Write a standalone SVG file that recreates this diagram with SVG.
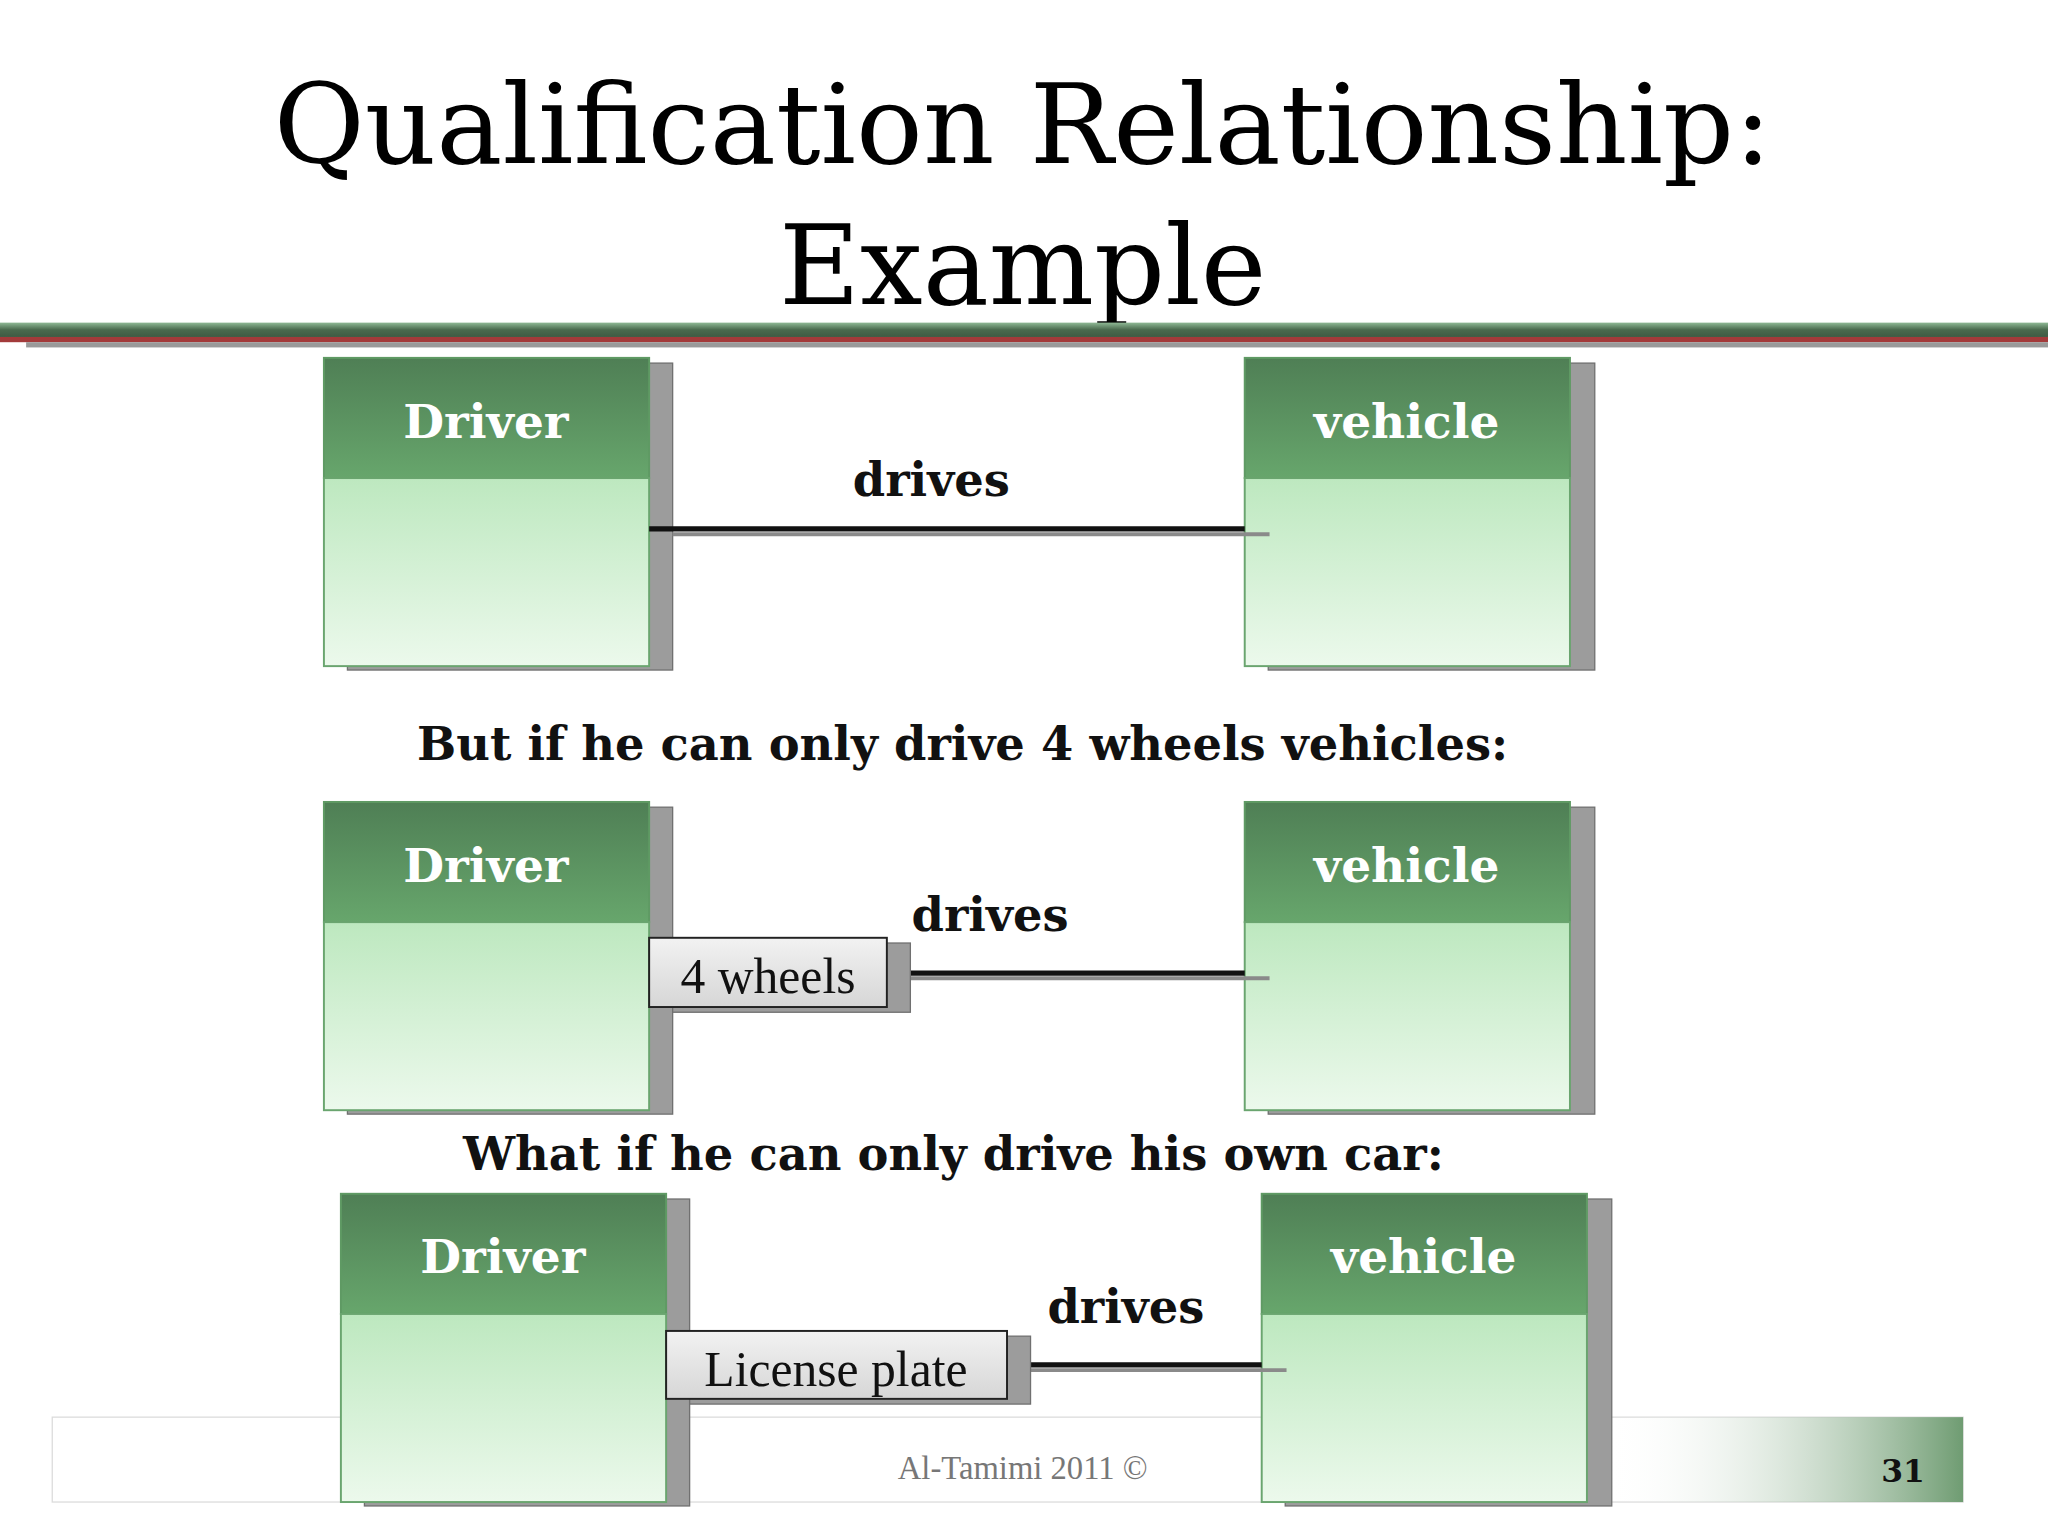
<svg xmlns="http://www.w3.org/2000/svg" width="2048" height="1536" viewBox="0 0 2048 1536">
<defs>
<linearGradient id="hd" x1="0" y1="0" x2="0" y2="1"><stop offset="0" stop-color="#4f7f55"/><stop offset="1" stop-color="#67a66c"/></linearGradient>
<linearGradient id="bd" x1="0" y1="0" x2="0" y2="1"><stop offset="0" stop-color="#bde8bf"/><stop offset="1" stop-color="#ecf9ec"/></linearGradient>
<linearGradient id="bar" x1="0" y1="0" x2="0" y2="1"><stop offset="0" stop-color="#8fb995"/><stop offset="0.5" stop-color="#4a6a4e"/><stop offset="1" stop-color="#3f5a43"/></linearGradient>
<linearGradient id="ft" x1="0" y1="0" x2="1" y2="0"><stop offset="0" stop-color="#ffffff" stop-opacity="0"/><stop offset="1" stop-color="#6f9c72"/></linearGradient>
<linearGradient id="q" x1="0" y1="0" x2="0" y2="1"><stop offset="0" stop-color="#f2f2f2"/><stop offset="1" stop-color="#d6d6d6"/></linearGradient>
</defs>
<style>
.t{font-family:"DejaVu Serif","Liberation Serif",serif;font-size:85px;fill:#000;text-anchor:middle}
.h{font-family:"DejaVu Serif","Liberation Serif",serif;font-weight:bold;font-size:36px;fill:#fff;text-anchor:middle}
.l{font-family:"DejaVu Serif","Liberation Serif",serif;font-weight:bold;font-size:35.5px;fill:#111;text-anchor:middle}
.sh{fill:#9c9c9c;stroke:#707070;stroke-width:1}
.hdr{fill:url(#hd);stroke:#5f9a64;stroke-width:1.5}
.bdy{fill:url(#bd);stroke:#6aa56f;stroke-width:1.5}
.ln{stroke:#111;stroke-width:4}
.lns{stroke:#8a8a8a;stroke-width:3}
.qb{fill:url(#q);stroke:#222;stroke-width:1.5}
.qt{font-family:"Liberation Serif","DejaVu Serif",serif;font-size:38px;fill:#111;text-anchor:middle}
</style>
<rect width="2048" height="1536" fill="#fff"/>
<g transform="scale(1.30612)">
<text class="t" x="783" y="125">Qualification Relationship:</text>
<text class="t" x="783" y="233">Example</text>
<rect x="0" y="247" width="1568" height="11" fill="url(#bar)"/>
<rect x="0" y="258" width="1568" height="4" fill="#a33a3a"/>
<rect x="20" y="262" width="1548" height="4" fill="#9a9a9a"/>

<g id="footer">
<rect x="40" y="1085" width="1463" height="65" fill="#fff" stroke="#dcdcdc"/>
<rect x="1230" y="1085" width="273" height="65" fill="url(#ft)"/>
<text x="783" y="1132" font-family="Liberation Serif,serif" font-size="25" fill="#777" text-anchor="middle">Al-Tamimi 2011 ©</text>
<text x="1457" y="1135" font-family="DejaVu Serif,serif" font-weight="bold" font-size="24" fill="#111" text-anchor="middle">31</text>
</g>

<text class="l" x="737" y="582">But if he can only drive 4 wheels vehicles:</text>
<text class="l" x="730" y="896">What if he can only drive his own car:</text>

<g id="driver1"><rect class="sh" x="266" y="278" width="249" height="235"/><rect class="hdr" x="248" y="274" width="249" height="92"/><rect class="bdy" x="248" y="366" width="249" height="144"/><text class="h" x="372" y="335">Driver</text></g>
<g id="vehicle1"><rect class="sh" x="971" y="278" width="250" height="235"/><rect class="hdr" x="953" y="274" width="249" height="92"/><rect class="bdy" x="953" y="366" width="249" height="144"/><text class="h" x="1077" y="335">vehicle</text></g>

<g id="driver2"><rect class="sh" x="266" y="618" width="249" height="235"/><rect class="hdr" x="248" y="614" width="249" height="92"/><rect class="bdy" x="248" y="706" width="249" height="144"/><text class="h" x="372" y="675">Driver</text></g>
<g id="vehicle2"><rect class="sh" x="971" y="618" width="250" height="235"/><rect class="hdr" x="953" y="614" width="249" height="92"/><rect class="bdy" x="953" y="706" width="249" height="144"/><text class="h" x="1077" y="675">vehicle</text></g>

<g id="driver3"><rect class="sh" x="279" y="918" width="249" height="235"/><rect class="hdr" x="261" y="914" width="249" height="92"/><rect class="bdy" x="261" y="1006" width="249" height="144"/><text class="h" x="385" y="975">Driver</text></g>
<g id="vehicle3"><rect class="sh" x="984" y="918" width="250" height="235"/><rect class="hdr" x="966" y="914" width="249" height="92"/><rect class="bdy" x="966" y="1006" width="249" height="144"/><text class="h" x="1090" y="975">vehicle</text></g>

<g id="connectors">
<line class="lns" x1="515" y1="409" x2="972" y2="409"/>
<line class="ln" x1="497" y1="405" x2="953" y2="405"/>
<line class="lns" x1="697" y1="749" x2="972" y2="749"/>
<line class="ln" x1="679" y1="745" x2="953" y2="745"/>
<line class="lns" x1="789" y1="1049" x2="985" y2="1049"/>
<line class="ln" x1="771" y1="1045" x2="966" y2="1045"/>
<text class="l" x="713" y="380">drives</text>
<text class="l" x="758" y="713">drives</text>
<text class="l" x="862" y="1013">drives</text>
</g>

<g id="q1"><rect class="sh" x="515" y="722" width="182" height="53"/><rect class="qb" x="497" y="718" width="182" height="53"/><text class="qt" x="588" y="760">4 wheels</text></g>
<g id="q2"><rect class="sh" x="528" y="1023" width="261" height="52"/><rect class="qb" x="510" y="1019" width="261" height="52"/><text class="qt" x="640" y="1061">License plate</text></g>
</g>
</svg>
